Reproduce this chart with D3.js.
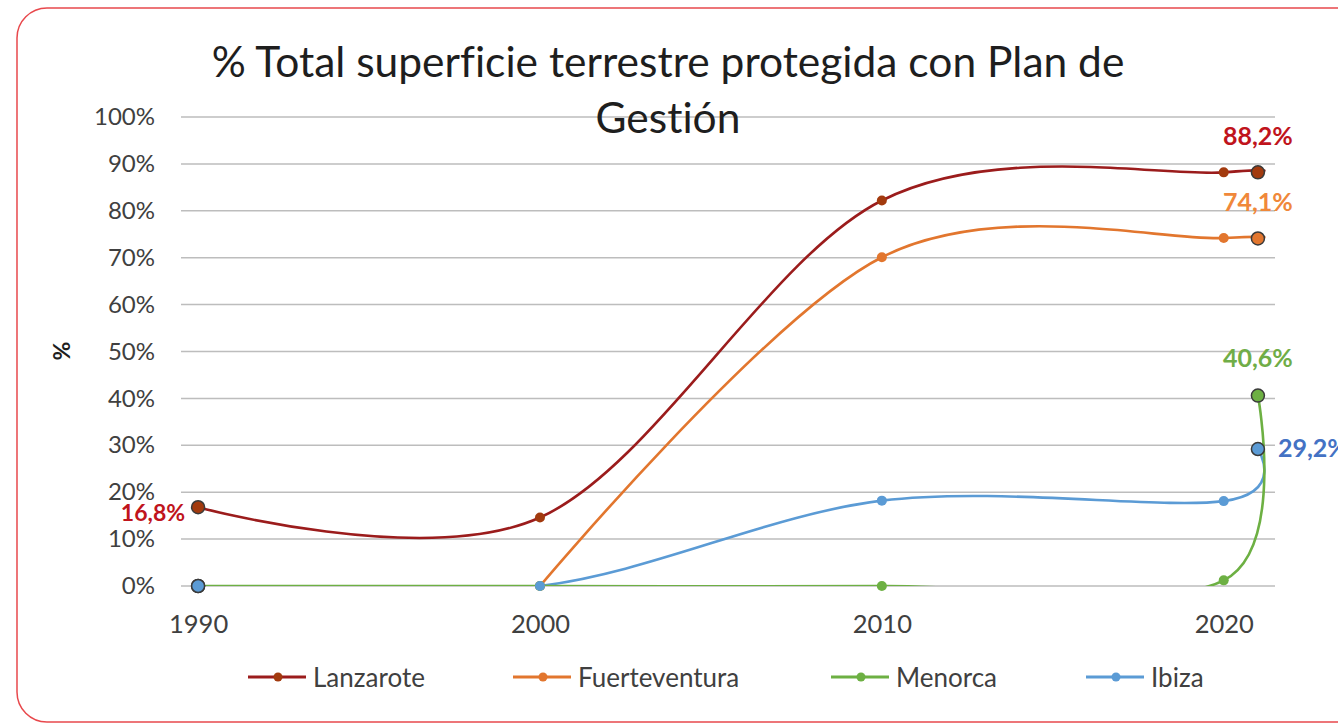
<!DOCTYPE html>
<html>
<head>
<meta charset="utf-8">
<script src="https://cdn.jsdelivr.net/npm/d3@7"></script>
<style>
  html, body { margin: 0; padding: 0; background: #fff; }
  svg { display: block; }
  text { font-family: Lato, "Open Sans", sans-serif; font-variant-ligatures: none; }
</style>
</head>
<body>
<svg id="chart" width="1338" height="725"></svg>
<script>
// Years on the horizontal axis and share of protected land (%) per island
const years = [1990, 2000, 2010, 2020, 2021];
const xTickYears = [1990, 2000, 2010, 2020];
const yTicks = [0, 10, 20, 30, 40, 50, 60, 70, 80, 90, 100];
const seriesNames = ["Lanzarote", "Fuerteventura", "Menorca", "Ibiza"];
const lanzarote = [16.8, 14.6, 82.2, 88.2, 88.2];
const fuerteventura = [null, 0, 70.1, 74.2, 74.1];
const menorca = [0, 0, 0, 1.2, 40.6];
const ibiza = [0, 0, 18.2, 18.1, 29.2];

const titleLines = ["% Total superficie terrestre protegida con Plan de", "Gestión"];

const styles = {
  Lanzarote:     { line: "#9B1C1C", dot: "#A23A0E", label: "#C0141C" },
  Fuerteventura: { line: "#E2762E", dot: "#E2762E", label: "#F0883A" },
  Menorca:       { line: "#6DB043", dot: "#6DB043", label: "#70AD47" },
  Ibiza:         { line: "#5B9BD5", dot: "#5B9BD5", label: "#4472C4" }
};

const series = [
  { name: "Lanzarote", values: lanzarote, big: [0, 4] },
  { name: "Fuerteventura", values: fuerteventura, big: [4] },
  { name: "Menorca", values: menorca, big: [0, 4] },
  { name: "Ibiza", values: ibiza, big: [0, 4] }
];
// Line drawing order (Menorca's flat stretch sits above Ibiza's)
const lineOrder = ["Lanzarote", "Fuerteventura", "Ibiza", "Menorca"];

const fmt = v => d3.format(".1f")(v).replace(".", ",") + "%";

const svg = d3.select("#chart");

// Card frame
svg.append("rect")
  .attr("x", 17).attr("y", 8)
  .attr("width", 1360).attr("height", 714)
  .attr("rx", 30).attr("ry", 30)
  .attr("fill", "#fff")
  .attr("stroke", "#E8484C")
  .attr("stroke-width", 1.5);

const plot = { left: 181, right: 1275, top: 117, bottom: 586 };

const x = d3.scaleLinear().domain([1989.5, 2021.5]).range([plot.left, plot.right]);
const y = d3.scaleLinear().domain([0, 100]).range([plot.bottom, plot.top]);

// Horizontal gridlines
svg.append("g")
  .selectAll("line")
  .data(yTicks)
  .join("line")
  .attr("x1", plot.left).attr("x2", plot.right)
  .attr("y1", d => y(d)).attr("y2", d => y(d))
  .attr("stroke", "#BDBDBD")
  .attr("stroke-width", 1.5);

// Title
svg.append("text")
  .attr("text-anchor", "middle")
  .attr("fill", "#1e1e1e")
  .attr("font-size", 42.5)
  .selectAll("tspan")
  .data(titleLines)
  .join("tspan")
  .attr("x", 668)
  .attr("y", (d, i) => 77 + i * 56)
  .text(d => d);

// Y axis labels
const yAxis = d3.axisLeft(y).tickValues(yTicks).tickFormat(d => d + "%").tickSize(0).tickPadding(26);
const yG = svg.append("g").attr("transform", `translate(${plot.left},0)`).call(yAxis);
yG.select(".domain").remove();
yG.selectAll("text").attr("font-size", 24).attr("fill", "#404040").attr("font-family", "Lato, sans-serif");

// X axis labels
const xAxis = d3.axisBottom(x).tickValues(xTickYears).tickFormat(d3.format("d")).tickSize(0).tickPadding(29);
const xG = svg.append("g").attr("transform", `translate(0,${plot.bottom})`).call(xAxis);
xG.select(".domain").remove();
xG.selectAll("text").attr("font-size", 25.5).attr("fill", "#404040").attr("font-family", "Lato, sans-serif");

// Y axis title
svg.append("text")
  .attr("transform", `translate(70,351) rotate(-90)`)
  .attr("text-anchor", "middle")
  .attr("font-size", 23)
  .attr("font-weight", "bold")
  .attr("fill", "#1e1e1e")
  .text("%");

// Clip smoothed lines to the plot area
svg.append("defs").append("clipPath").attr("id", "plotClip")
  .append("rect")
  .attr("x", plot.left).attr("y", plot.top - 20)
  .attr("width", plot.right - plot.left).attr("height", plot.bottom - plot.top + 20);

const line = d3.line()
  .x(d => x(d.year))
  .y(d => y(d.v))
  .curve(d3.curveCardinal.tension(0));

const lines = svg.append("g").attr("clip-path", "url(#plotClip)");
lineOrder.forEach(name => {
  const s = series.find(d => d.name === name);
  const pts = years.map((yr, i) => ({ year: yr, v: s.values[i] })).filter(d => d.v !== null);
  lines.append("path")
    .datum(pts)
    .attr("fill", "none")
    .attr("stroke", styles[s.name].line)
    .attr("stroke-width", 2.6)
    .attr("d", line);
});

// Markers
const markers = svg.append("g");
series.forEach(s => {
  years.forEach((yr, i) => {
    const v = s.values[i];
    if (v === null) return;
    const big = s.big.includes(i);
    markers.append("circle")
      .attr("cx", x(yr)).attr("cy", y(v))
      .attr("r", big ? 6.5 : 5)
      .attr("fill", styles[s.name].dot)
      .attr("stroke", big ? "#3a3a3a" : "none")
      .attr("stroke-width", big ? 1.5 : 0);
  });
});

// Data labels
const labels = [
  { name: "Lanzarote", i: 4, dx: 0, dy: -27, anchor: "middle", size: 25 },
  { name: "Fuerteventura", i: 4, dx: 0, dy: -27, anchor: "middle", size: 25 },
  { name: "Menorca", i: 4, dx: 0, dy: -29, anchor: "middle", size: 25 },
  { name: "Ibiza", i: 4, dx: 20, dy: 8, anchor: "start", size: 25 },
  { name: "Lanzarote", i: 0, dx: -13, dy: 14, anchor: "end", size: 23 }
];
const valuesByName = { Lanzarote: lanzarote, Fuerteventura: fuerteventura, Menorca: menorca, Ibiza: ibiza };
svg.append("g")
  .selectAll("text")
  .data(labels)
  .join("text")
  .attr("x", d => x(years[d.i]) + d.dx)
  .attr("y", d => y(valuesByName[d.name][d.i]) + d.dy)
  .attr("text-anchor", d => d.anchor)
  .attr("font-size", d => d.size)
  .attr("font-weight", "bold")
  .attr("fill", d => styles[d.name].label)
  .text(d => fmt(valuesByName[d.name][d.i]));

// Legend
const legendX = [248, 513, 831, 1086];
const legend = svg.append("g").attr("transform", "translate(0,677)");
seriesNames.forEach((name, i) => {
  const g = legend.append("g").attr("transform", `translate(${legendX[i]},0)`);
  g.append("line").attr("x1", 0).attr("x2", 58).attr("y1", 0).attr("y2", 0)
    .attr("stroke", styles[name].line).attr("stroke-width", 2.8);
  g.append("circle").attr("cx", 30).attr("cy", 0).attr("r", 4.5).attr("fill", styles[name].dot);
  g.append("text").attr("x", 65).attr("y", 10)
    .attr("font-size", 26).attr("fill", "#404040")
    .text(name);
});
</script>
</body>
</html>
